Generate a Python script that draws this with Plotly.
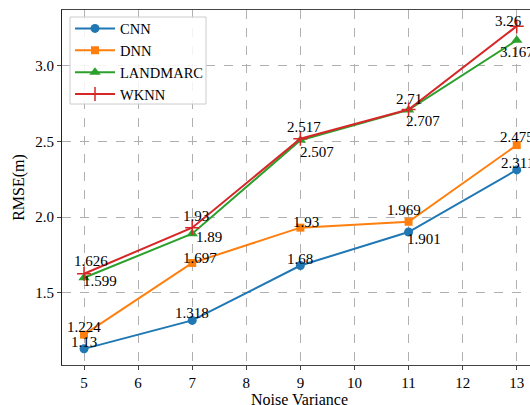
import plotly.graph_objects as go

noise = [5, 7, 9, 11, 13]
cnn = [1.13, 1.318, 1.68, 1.901, 2.311]
dnn = [1.224, 1.697, 1.93, 1.969, 2.475]
landmarc = [1.599, 1.89, 2.507, 2.707, 3.167]
wknn = [1.626, 1.93, 2.517, 2.71, 3.26]

series = [
    ("CNN", cnn, "#1f77b4", "circle", 9),
    ("DNN", dnn, "#ff7f0e", "square", 8),
    ("LANDMARC", landmarc, "#2ca02c", "triangle-up", 10),
    ("WKNN", wknn, "#d62728", "cross-thin", 10),
]

# label pixel offsets (dx, dy; dy positive = downwards) for each point
label_offsets = {
    "CNN": [(0, -7), (0, -7), (0, -7), (15, 7), (1, -7)],
    "DNN": [(0, -8), (8, -5), (6, -6), (-5, -12), (0, -8)],
    "LANDMARC": [(16, 3), (17, 3), (17, 12), (14, 11), (0, 12)],
    "WKNN": [(7, -13), (4, -12), (4, -12), (0, -10), (-8, -5)],
}

FONT = "Liberation Serif, Times New Roman, serif"

W, H = 530, 405
L, R, T, B = 62, 0, 10, 40
pw, ph = W - L - R, H - T - B
def px_x(p): return (p - L) / pw
def px_y(p): return 1 - (p - T) / ph

fig = go.Figure()
annos = []
for name, vals, color, sym, size in series:
    fig.add_trace(go.Scatter(
        x=noise, y=vals, name=name, mode="lines+markers",
        line=dict(color=color, width=2),
        marker=dict(symbol=sym, size=size, color=color,
                    line=dict(color=color, width=1.5 if sym == "cross-thin" else 0)),
    ))
    for (x, v), (dx, dy) in zip(zip(noise, vals), label_offsets[name]):
        annos.append(dict(x=x, y=v, text=str(v), xanchor="center", yanchor="middle",
                          showarrow=False, xshift=dx, yshift=-dy,
                          font=dict(family=FONT, size=15, color="black")))

# x-axis title as annotation
annos.append(dict(x=px_x(299), y=px_y(399), xref="paper", yref="paper",
                  text="Noise Variance", showarrow=False, xanchor="center", yanchor="middle",
                  font=dict(family=FONT, size=16, color="black")))
fig.update_layout(annotations=annos)

# legend frame (pixel box 70..206 x 17..104)
fig.add_shape(type="rect", xref="paper", yref="paper",
              x0=px_x(70), x1=px_x(206), y0=px_y(104), y1=px_y(17),
              line=dict(color="#cccccc", width=1), fillcolor="rgba(255,255,255,0.85)",
              layer="above")

fig.update_layout(
    width=W, height=H,
    margin=dict(l=L, r=R, t=T, b=B, autoexpand=False),
    paper_bgcolor="white", plot_bgcolor="white",
    font=dict(family=FONT, size=15, color="black"),
    showlegend=True,
    legend=dict(x=px_x(70), y=px_y(12.5), xanchor="left", yanchor="top",
                bgcolor="rgba(0,0,0,0)", borderwidth=0, itemwidth=40,
                font=dict(family=FONT, size=14.5), tracegroupgap=0),
)
fig.update_xaxes(
    range=[4.593, 13.245], tickmode="array", tickvals=list(range(5, 14)),
    showgrid=True, gridcolor="#b0b0b0", griddash="dash", gridwidth=1,
    showline=True, linecolor="#444", linewidth=1.2, mirror=True,
    ticks="outside", ticklen=4, tickcolor="#444",
    tickfont=dict(size=15),
    zeroline=False, automargin=False,
)
fig.update_yaxes(
    range=[1.0235, 3.3665], tickmode="array", tickvals=[1.5, 2.0, 2.5, 3.0],
    ticktext=["1.5", "2.0", "2.5", "3.0"],
    showgrid=True, gridcolor="#b0b0b0", griddash="dash", gridwidth=1,
    showline=True, linecolor="#222", linewidth=1.2,
    ticks="outside", ticklen=4, tickcolor="#444",
    tickfont=dict(size=15),
    title=dict(text="RMSE(m)", standoff=6, font=dict(size=16)),
    zeroline=False, automargin=False,
)
fig.write_html("out.html", config={"displayModeBar": False},
               post_script="document.body.style.margin='0';document.body.style.overflow='hidden';")
